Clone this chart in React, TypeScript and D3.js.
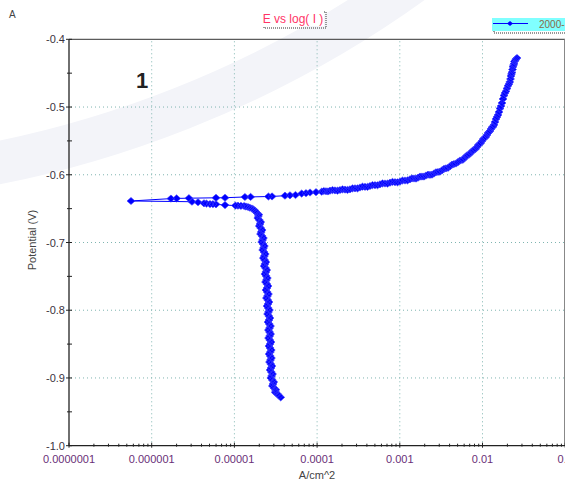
import React from "react";
import * as d3 from "d3";

const W = 565;
const H = 483;

// Current density (A/cm^2), in scan order (cathodic -> Ecorr -> anodic)
const currentData: number[] = [
  // cathodic branch
  3.63e-5, 3.47e-5, 3.32e-5, 3.13e-5, 3.14e-5, 3.16e-5, 3.01e-5, 2.88e-5, 2.93e-5, 2.99e-5,
  2.87e-5, 2.76e-5, 2.82e-5, 2.89e-5, 2.79e-5, 2.70e-5, 2.77e-5, 2.84e-5, 2.75e-5, 2.66e-5,
  2.73e-5, 2.80e-5, 2.71e-5, 2.63e-5, 2.72e-5, 2.79e-5, 2.70e-5, 2.62e-5, 2.70e-5, 2.77e-5,
  2.68e-5, 2.59e-5, 2.67e-5, 2.74e-5, 2.66e-5, 2.58e-5, 2.66e-5, 2.73e-5, 2.64e-5, 2.55e-5,
  2.62e-5, 2.69e-5, 2.61e-5, 2.52e-5, 2.58e-5, 2.65e-5, 2.56e-5, 2.48e-5, 2.55e-5, 2.62e-5,
  2.53e-5, 2.44e-5, 2.51e-5, 2.58e-5, 2.49e-5, 2.41e-5, 2.48e-5, 2.55e-5, 2.47e-5, 2.38e-5,
  2.44e-5, 2.50e-5, 2.42e-5, 2.34e-5, 2.40e-5, 2.46e-5, 2.38e-5, 2.29e-5, 2.34e-5, 2.40e-5,
  2.32e-5, 2.24e-5, 2.30e-5, 2.36e-5, 2.28e-5, 2.20e-5, 2.25e-5, 2.30e-5, 2.22e-5, 2.14e-5,
  2.19e-5, 2.24e-5, 2.16e-5, 2.07e-5, 2.11e-5, 2.16e-5, 2.08e-5, 2.00e-5, 2.04e-5, 2.08e-5,
  2.00e-5, 1.92e-5, 1.95e-5, 1.97e-5, 1.88e-5, 1.82e-5, 1.77e-5, 1.70e-5, 1.63e-5, 1.54e-5,
  1.46e-5, 1.38e-5, 1.31e-5, 1.20e-5,
  // around Ecorr
  1.105e-5, 1.03e-5, 7.7e-6, 5.99e-6, 5.5e-6, 5.07e-6, 4.6e-6, 4.29e-6, 3.63e-6, 3.07e-6,
  5.62e-7, 1.71e-6, 2.0e-6, 2.82e-6, 5.99e-6, 7.7e-6, 1.34e-5, 1.57e-5, 2.58e-5, 2.85e-5,
  // anodic branch
  4.09e-5, 4.7e-5, 5.48e-5, 6.51e-5, 7.34e-5, 8.21e-5, 9.7e-5, 1.137e-4, 1.207e-4, 1.281e-4,
  1.354e-4, 1.432e-4, 1.535e-4, 1.646e-4, 1.765e-4, 1.892e-4, 2.029e-4, 2.175e-4, 2.331e-4, 2.499e-4,
  2.68e-4, 2.873e-4, 3.08e-4, 3.302e-4, 3.54e-4, 3.795e-4, 4.069e-4, 4.362e-4, 4.676e-4, 5.013e-4,
  5.374e-4, 5.762e-4, 6.177e-4, 6.622e-4, 7.1e-4, 7.612e-4, 8.161e-4, 8.75e-4, 9.382e-4, 1.006e-3,
  1.078e-3, 1.156e-3, 1.239e-3, 1.328e-3, 1.404e-3, 1.485e-3, 1.57e-3, 1.66e-3, 1.755e-3, 1.855e-3,
  1.961e-3, 2.074e-3, 2.193e-3, 2.318e-3, 2.451e-3, 2.591e-3, 2.739e-3, 2.896e-3, 3.062e-3, 3.237e-3,
  3.423e-3, 3.619e-3, 3.827e-3, 4.046e-3, 4.277e-3, 4.522e-3, 4.781e-3, 5.055e-3, 5.345e-3, 5.651e-3,
  5.892e-3, 6.143e-3, 6.404e-3, 6.677e-3, 6.962e-3, 7.26e-3, 7.568e-3, 7.89e-3, 8.228e-3, 8.58e-3,
  8.885e-3, 9.2e-3, 9.524e-3, 9.86e-3, 1.021e-2, 1.057e-2, 1.094e-2, 1.133e-2, 1.165e-2, 1.198e-2,
  1.232e-2, 1.267e-2, 1.303e-2, 1.34e-2, 1.377e-2, 1.416e-2, 1.456e-2, 1.497e-2, 1.539e-2, 1.583e-2,
  1.628e-2, 1.674e-2, 1.721e-2, 1.77e-2, 1.82e-2, 1.871e-2, 1.924e-2, 1.978e-2, 2.034e-2, 2.092e-2,
  2.136e-2, 2.181e-2, 2.211e-2, 2.242e-2, 2.274e-2, 2.306e-2, 2.338e-2, 2.371e-2, 2.404e-2, 2.437e-2,
  2.488e-2, 2.541e-2, 2.613e-2,
];

// Potential (V), in the same scan order
const potentialData: number[] = [
  // cathodic branch
  -0.9286, -0.9262, -0.9237, -0.9215, -0.9193, -0.917, -0.9148, -0.9118, -0.9089, -0.906,
  -0.903, -0.9, -0.8971, -0.8942, -0.8912, -0.8882, -0.8853, -0.8824, -0.8794, -0.8765,
  -0.8735, -0.8706, -0.8676, -0.8647, -0.8617, -0.8588, -0.8558, -0.8529, -0.8499, -0.847,
  -0.844, -0.8411, -0.8381, -0.8352, -0.8322, -0.8293, -0.8263, -0.8234, -0.8204, -0.8175,
  -0.8145, -0.8116, -0.8086, -0.8056, -0.8026, -0.7997, -0.7967, -0.7938, -0.7908, -0.7879,
  -0.7849, -0.782, -0.779, -0.7761, -0.7731, -0.7702, -0.7672, -0.7643, -0.7613, -0.7584,
  -0.7554, -0.7525, -0.7495, -0.7466, -0.7436, -0.7407, -0.7377, -0.7348, -0.7318, -0.7289,
  -0.7259, -0.723, -0.72, -0.717, -0.714, -0.7111, -0.7081, -0.7052, -0.7022, -0.6993,
  -0.6963, -0.6934, -0.6904, -0.6875, -0.6845, -0.6816, -0.6786, -0.6757, -0.6727, -0.6698,
  -0.6668, -0.6639, -0.6609, -0.6587, -0.6565, -0.6547, -0.6528, -0.6513, -0.6498, -0.6487,
  -0.6476, -0.6469, -0.6461, -0.6459,
  // around Ecorr
  -0.6457, -0.6455, -0.6447, -0.6436, -0.6434, -0.6432, -0.6426, -0.6421, -0.6406, -0.6398,
  -0.6387, -0.6352, -0.6349, -0.6346, -0.634, -0.6339, -0.6328, -0.6327, -0.6321, -0.632,
  // anodic branch
  -0.6309, -0.6303, -0.6299, -0.6277, -0.6272, -0.6262, -0.6257, -0.625, -0.624, -0.6243,
  -0.6246, -0.6235, -0.6226, -0.6231, -0.6235, -0.6225, -0.6215, -0.6219, -0.6224, -0.6215,
  -0.6201, -0.62, -0.6201, -0.6188, -0.6176, -0.6178, -0.6179, -0.6166, -0.6153, -0.6154,
  -0.6155, -0.6141, -0.6128, -0.6129, -0.613, -0.6117, -0.6106, -0.611, -0.6112, -0.61,
  -0.6085, -0.6085, -0.6083, -0.6067, -0.6054, -0.6055, -0.6056, -0.6043, -0.6027, -0.6026,
  -0.6026, -0.6011, -0.5999, -0.6001, -0.5998, -0.5981, -0.5963, -0.5959, -0.5954, -0.5934,
  -0.5913, -0.5905, -0.5897, -0.5875, -0.5851, -0.5841, -0.5834, -0.5812, -0.579, -0.5782,
  -0.5771, -0.5745, -0.572, -0.5708, -0.5697, -0.5671, -0.5646, -0.5634, -0.5619, -0.559,
  -0.5561, -0.5546, -0.5531, -0.5502, -0.5472, -0.5457, -0.5442, -0.5413, -0.5384, -0.5369,
  -0.5354, -0.5324, -0.53, -0.529, -0.5263, -0.5221, -0.5177, -0.5147, -0.5117, -0.5073,
  -0.5022, -0.4985, -0.494, -0.4881, -0.483, -0.4793, -0.4767, -0.4726, -0.4686, -0.466,
  -0.463, -0.4586, -0.4542, -0.4512, -0.4486, -0.4446, -0.4405, -0.4379, -0.4361, -0.4328,
  -0.431, -0.4291, -0.4276,
];

const xTickValues: number[] = [1e-7, 1e-6, 1e-5, 1e-4, 1e-3, 1e-2, 1e-1];
const xTickLabels: string[] = ["0.0000001", "0.000001", "0.00001", "0.0001", "0.001", "0.01", "0.1"];
const yTickValues: number[] = [-0.4, -0.5, -0.6, -0.7, -0.8, -0.9, -1.0];
const yTickLabels: string[] = ["-0.4", "-0.5", "-0.6", "-0.7", "-0.8", "-0.9", "-1.0"];
const yMinorTicks: number[] = [-0.45, -0.55, -0.65, -0.75, -0.85, -0.95];

const chartTitle = "E vs log( I )";
const legendLabel = "2000-";
const xAxisTitle = "A/cm^2";
const yAxisTitle = "Potential (V)";
const panelLetter = "A";
const panelNumber = "1";

const FONT = "'Liberation Sans', Arial, sans-serif";

export default function App() {
  const left = 69;
  const right = 565.2;
  const top = 39.3;
  const bottom = 445.7;

  const x = d3.scaleLog().domain([1e-7, 1e-1]).range([left, right]);
  const y = d3.scaleLinear().domain([-1.0, -0.4]).range([bottom, top]);

  const n = Math.min(currentData.length, potentialData.length);
  const pts: [number, number][] = [];
  for (let i = 0; i < n; i++) pts.push([x(currentData[i]), y(potentialData[i])]);
  const linePath = d3.line()(pts) || "";
  const diamond = (px: number, py: number, hw = 4, hh = 3.6) =>
    `M${px},${py - hh}L${px + hw},${py}L${px},${py + hh}L${px - hw},${py}Z`;
  const markers = pts.map(([px, py]) => diamond(px, py)).join("");

  const minorX = x.ticks().filter((t) => !xTickValues.some((v) => Math.abs(v - t) / v < 1e-6));
  const gridColor = "#7fb5b0";

  return (
    <div style={{ position: "fixed", left: 0, top: 0 }}>
      <svg width={W} height={H} style={{ display: "block", background: "#fff" }}>
        {/* watermark swoosh */}
        <circle cx={-212} cy={-885} r={1068.5} fill="none" stroke="#f3f4f9" strokeWidth={43} />

        {/* grid */}
        {xTickValues.slice(1, -1).map((v, i) => (
          <line key={"gx" + i} x1={x(v)} x2={x(v)} y1={top + 2} y2={bottom - 1}
            stroke={gridColor} strokeWidth={1} strokeDasharray="1,3" />
        ))}
        {yTickValues.slice(1, -1).map((v, i) => (
          <line key={"gy" + i} x1={left + 2} x2={right} y1={y(v)} y2={y(v)}
            stroke={gridColor} strokeWidth={1} strokeDasharray="1,3" />
        ))}

        {/* frame */}
        <line x1={left} x2={right} y1={top} y2={top} stroke="#333" strokeWidth={1} />
        <line x1={564.5} x2={564.5} y1={top} y2={bottom} stroke="#888" strokeWidth={1} />
        <line x1={left} x2={left} y1={top} y2={bottom} stroke="#222" strokeWidth={1.3} />
        <line x1={left} x2={right} y1={bottom} y2={bottom} stroke="#222" strokeWidth={1.3} />

        {/* y ticks */}
        {yTickValues.map((v, i) => (
          <g key={"yt" + i}>
            <line x1={left - 3} x2={left + 3} y1={y(v)} y2={y(v)} stroke="#222" />
            <text x={left - 4} y={y(v) + 4} textAnchor="end" fontFamily={FONT} fontSize={11} fill="#3a3340">
              {yTickLabels[i]}
            </text>
          </g>
        ))}
        {yMinorTicks.map((v, i) => (
          <line key={"ym" + i} x1={left - 2} x2={left + 3} y1={y(v)} y2={y(v)} stroke="#222" />
        ))}

        {/* x ticks */}
        {xTickValues.map((v, i) => (
          <g key={"xt" + i}>
            <line x1={x(v)} x2={x(v)} y1={bottom - 3} y2={bottom + 2} stroke="#222" />
            <text x={x(v)} y={bottom + 17} textAnchor="middle" fontFamily={FONT} fontSize={11} fill="#6a2f78">
              {xTickLabels[i]}
            </text>
          </g>
        ))}
        {minorX.map((v, i) => (
          <line key={"xm" + i} x1={x(v)} x2={x(v)} y1={bottom - 2} y2={bottom + 1} stroke="#222" />
        ))}

        {/* axis titles */}
        <text x={317} y={479} textAnchor="middle" fontFamily={FONT} fontSize={11} fill="#444">
          {xAxisTitle}
        </text>
        <text transform="translate(36,240) rotate(-90)" textAnchor="middle" fontFamily={FONT} fontSize={11} fill="#444">
          {yAxisTitle}
        </text>

        {/* data */}
        <path d={linePath} fill="none" stroke="#0000ff" strokeWidth={1} />
        <path d={markers} fill="#0000ff" stroke="#3a3aff" strokeWidth={0.6} />

        {/* panel labels */}
        <text x={9} y={18} fontFamily={FONT} fontSize={10} fill="#444">{panelLetter}</text>
        <text x={136} y={88} fontFamily={FONT} fontSize={22} fontWeight="bold" fill="#222">{panelNumber}</text>

        {/* title box */}
        <rect x={264} y={12} width={62} height={16} fill="none" stroke="#777" strokeWidth={1.5} strokeDasharray="1,1" />
        <rect x={262} y={10} width={62} height={16} fill="#fff" />
        <text x={293} y={23} textAnchor="middle" fontFamily={FONT} fontSize={12} fill="#ff3366">
          {chartTitle}
        </text>

        {/* legend */}
        <rect x={494} y={20} width={80} height={13} fill="none" stroke="#777" strokeWidth={1.5} strokeDasharray="1,1" />
        <rect x={492} y={18} width={80} height={13} fill="#80ffff" />
        <line x1={493} x2={528} y1={23.5} y2={23.5} stroke="#0000ff" strokeWidth={1} />
        <path d={diamond(510, 23.5, 3, 2.6)} fill="#0000ff" />
        <text x={539} y={28} fontFamily={FONT} fontSize={10} fill="#8a6a4a">{legendLabel}</text>
      </svg>
    </div>
  );
}
